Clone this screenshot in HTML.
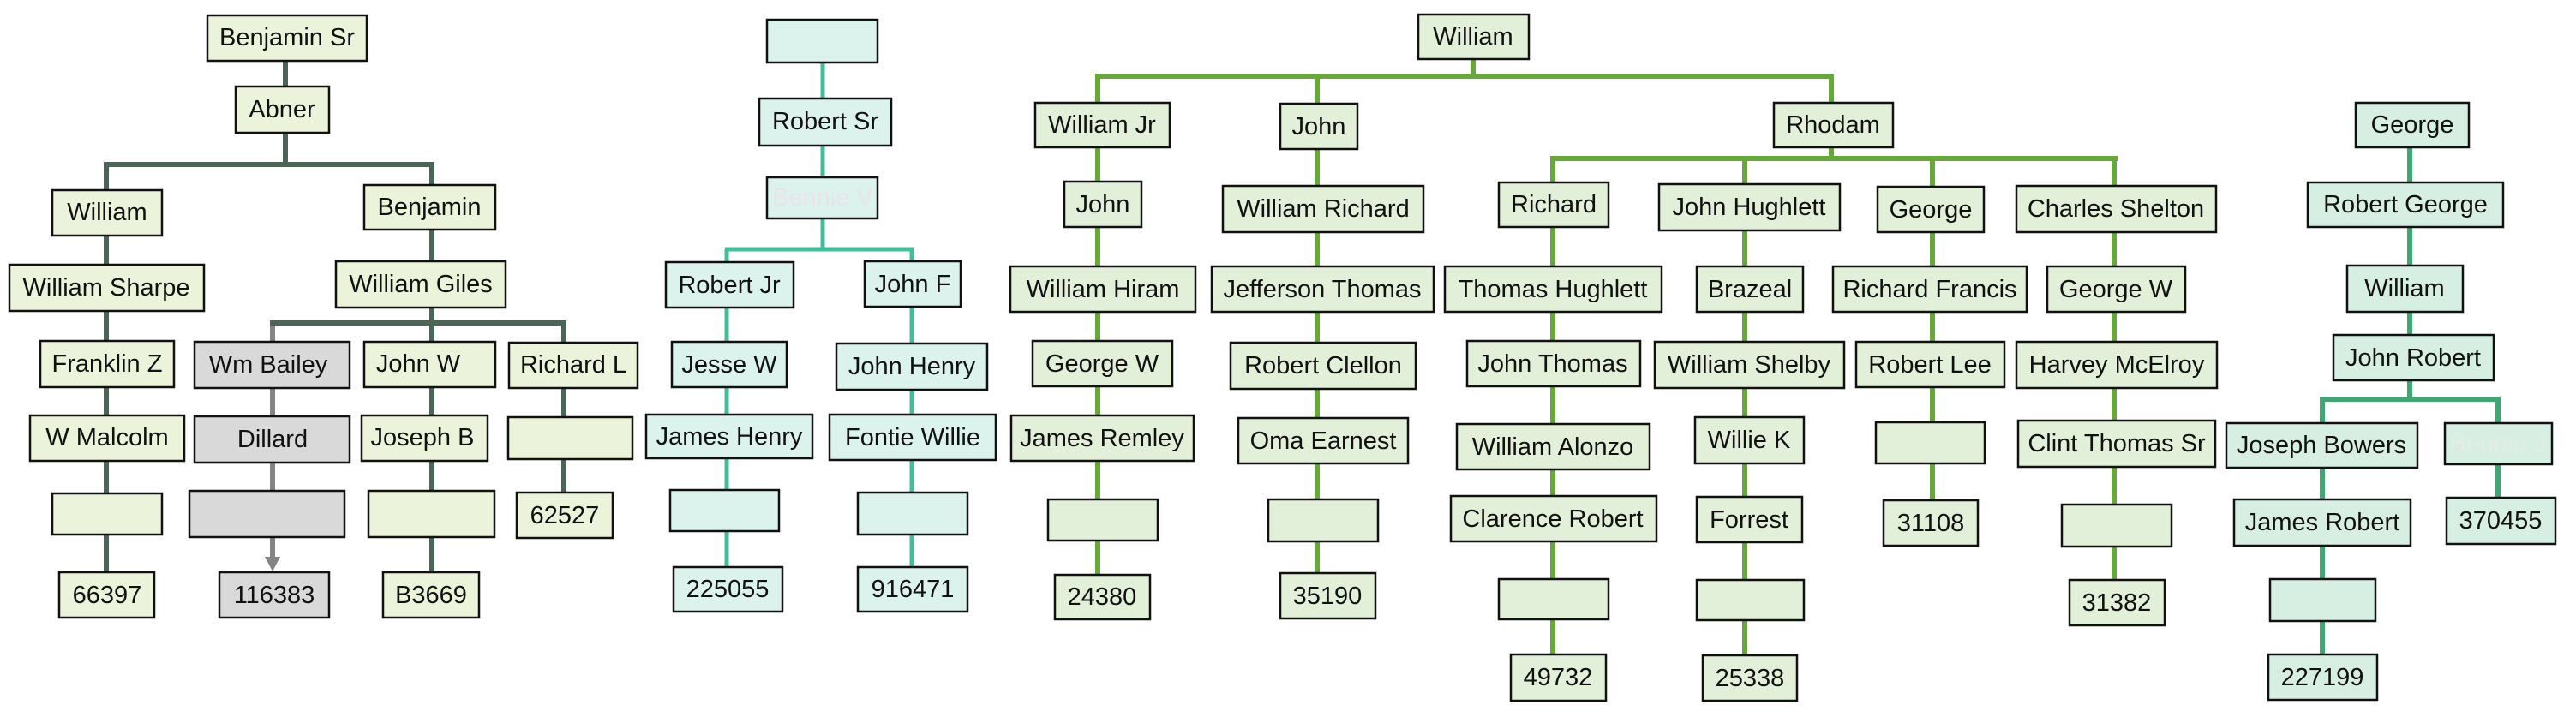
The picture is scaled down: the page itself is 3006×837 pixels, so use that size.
<!DOCTYPE html>
<html><head><meta charset="utf-8"><style>
html,body{margin:0;padding:0;background:#fff;}
svg{display:block}
text{font-family:"Liberation Sans",sans-serif;font-size:29px;fill:#111;text-anchor:middle;dominant-baseline:central}
rect{stroke:#111;stroke-width:2.5}
.a{fill:#ebf3da}.g{fill:#d9d9d9}.t{fill:#dcf2ec}.e{fill:#e2efd9}.m{fill:#d6efe2}
line{stroke-linecap:butt}
</style></head><body>
<svg width="3006" height="837" viewBox="0 0 3006 837" xmlns="http://www.w3.org/2000/svg">
<g stroke="#4b6657" stroke-width="6">
<line x1="333" y1="70" x2="333" y2="195"/>
<line x1="121" y1="192" x2="507" y2="192"/>
<line x1="124" y1="192" x2="124" y2="668"/>
<line x1="504" y1="192" x2="504" y2="668"/>
<line x1="315" y1="377" x2="661" y2="377"/>
<line x1="658" y1="377" x2="658" y2="590"/>
</g>
<g stroke="#848484" stroke-width="6">
<line x1="318" y1="380" x2="318" y2="652"/>
</g>
<polygon points="309,650 327,650 318,667" fill="#848484"/>
<g stroke="#45bd9b" stroke-width="5">
<line x1="960" y1="73" x2="960" y2="293"/>
<line x1="846" y1="291" x2="1066" y2="291"/>
<line x1="848" y1="291" x2="848" y2="662"/>
<line x1="1064" y1="291" x2="1064" y2="662"/>
</g>
<g stroke="#68a83a" stroke-width="6">
<line x1="1719" y1="69" x2="1719" y2="92"/>
<line x1="1278" y1="89" x2="2140" y2="89"/>
<line x1="1281" y1="89" x2="1281" y2="671"/>
<line x1="1537" y1="89" x2="1537" y2="669"/>
<line x1="2137" y1="89" x2="2137" y2="188"/>
<line x1="1809" y1="185" x2="2472" y2="185"/>
<line x1="1812" y1="185" x2="1812" y2="764"/>
<line x1="2036" y1="185" x2="2036" y2="765"/>
<line x1="2255" y1="185" x2="2255" y2="584"/>
<line x1="2467" y1="185" x2="2467" y2="677"/>
</g>
<g stroke="#3fa772" stroke-width="6">
<line x1="2812" y1="172" x2="2812" y2="469"/>
<line x1="2707" y1="466" x2="2918" y2="466"/>
<line x1="2710" y1="466" x2="2710" y2="764"/>
<line x1="2915" y1="466" x2="2915" y2="581"/>
</g>

<rect class="a" x="242" y="18" width="186" height="53"/><text x="335" y="44">Benjamin Sr</text>
<rect class="a" x="275" y="101" width="109" height="54"/><text x="329" y="128">Abner</text>
<rect class="a" x="61" y="222" width="128" height="53"/><text x="125" y="248">William</text>
<rect class="a" x="425" y="216" width="153" height="52"/><text x="501" y="242">Benjamin</text>
<rect class="a" x="11" y="309" width="227" height="54"/><text x="124" y="336">William Sharpe</text>
<rect class="a" x="392" y="305" width="198" height="54"/><text x="491" y="332">William Giles</text>
<rect class="a" x="47" y="398" width="156" height="54"/><text x="125" y="425">Franklin Z</text>
<rect class="g" x="227" y="399" width="181" height="54"/><text x="313" y="426">Wm Bailey</text>
<rect class="a" x="425" y="399" width="153" height="53"/><text x="488" y="425">John W</text>
<rect class="a" x="594" y="400" width="150" height="53"/><text x="669" y="426">Richard L</text>
<rect class="a" x="35" y="485" width="180" height="53"/><text x="125" y="511">W Malcolm</text>
<rect class="g" x="227" y="486" width="181" height="54"/><text x="318" y="513">Dillard</text>
<rect class="a" x="422" y="485" width="147" height="53"/><text x="493" y="511">Joseph B</text>
<rect class="a" x="593" y="487" width="145" height="49"/>
<rect class="a" x="61" y="576" width="128" height="48"/>
<rect class="g" x="221" y="573" width="181" height="54"/>
<rect class="a" x="430" y="573" width="147" height="54"/>
<rect class="a" x="603" y="575" width="112" height="53"/><text x="659" y="602">62527</text>
<rect class="a" x="69" y="668" width="111" height="53"/><text x="125" y="695">66397</text>
<rect class="g" x="256" y="668" width="128" height="53"/><text x="320" y="695">116383</text>
<rect class="a" x="447" y="668" width="112" height="53"/><text x="503" y="695">B3669</text>

<rect class="t" x="895" y="23" width="129" height="50"/>
<rect class="t" x="886" y="115" width="154" height="55"/><text x="963" y="142">Robert Sr</text>
<rect class="t" x="895" y="207" width="129" height="48"/><text x="960" y="231" style="fill:#e9e4ea">Bennie V</text>
<rect class="t" x="777" y="306" width="149" height="53"/><text x="851" y="333">Robert Jr</text>
<rect class="t" x="1009" y="305" width="112" height="53"/><text x="1065" y="332">John F</text>
<rect class="t" x="784" y="399" width="134" height="53"/><text x="851" y="426">Jesse W</text>
<rect class="t" x="976" y="401" width="176" height="54"/><text x="1064" y="428">John Henry</text>
<rect class="t" x="754" y="484" width="194" height="51"/><text x="851" y="510">James Henry</text>
<rect class="t" x="968" y="484" width="194" height="53"/><text x="1065" y="511">Fontie Willie</text>
<rect class="t" x="782" y="572" width="127" height="48"/>
<rect class="t" x="1001" y="575" width="128" height="49"/>
<rect class="t" x="786" y="662" width="127" height="52"/><text x="849" y="688">225055</text>
<rect class="t" x="1001" y="662" width="128" height="52"/><text x="1065" y="688">916471</text>

<rect class="e" x="1655" y="17" width="129" height="52"/><text x="1719" y="43">William</text>
<rect class="e" x="1208" y="120" width="157" height="52"/><text x="1286" y="146">William Jr</text>
<rect class="e" x="1494" y="121" width="90" height="53"/><text x="1539" y="148">John</text>
<rect class="e" x="2070" y="120" width="139" height="52"/><text x="2139" y="146">Rhodam</text>
<rect class="e" x="1242" y="212" width="90" height="53"/><text x="1287" y="239">John</text>
<rect class="e" x="1179" y="311" width="216" height="53"/><text x="1287" y="338">William Hiram</text>
<rect class="e" x="1205" y="398" width="163" height="53"/><text x="1286" y="425">George W</text>
<rect class="e" x="1180" y="485" width="213" height="53"/><text x="1286" y="512">James Remley</text>
<rect class="e" x="1223" y="583" width="128" height="48"/>
<rect class="e" x="1231" y="671" width="111" height="52"/><text x="1286" y="697">24380</text>
<rect class="e" x="1427" y="217" width="234" height="54"/><text x="1544" y="244">William Richard</text>
<rect class="e" x="1414" y="311" width="259" height="53"/><text x="1543" y="338">Jefferson Thomas</text>
<rect class="e" x="1436" y="400" width="216" height="54"/><text x="1544" y="427">Robert Clellon</text>
<rect class="e" x="1445" y="488" width="198" height="53"/><text x="1544" y="515">Oma Earnest</text>
<rect class="e" x="1480" y="583" width="128" height="49"/>
<rect class="e" x="1494" y="669" width="111" height="53"/><text x="1549" y="696">35190</text>
<rect class="e" x="1749" y="213" width="128" height="52"/><text x="1813" y="239">Richard</text>
<rect class="e" x="1686" y="311" width="253" height="53"/><text x="1812" y="338">Thomas Hughlett</text>
<rect class="e" x="1712" y="398" width="202" height="53"/><text x="1812" y="425">John Thomas</text>
<rect class="e" x="1700" y="495" width="225" height="53"/><text x="1812" y="522">William Alonzo</text>
<rect class="e" x="1693" y="579" width="240" height="53"/><text x="1812" y="606">Clarence Robert</text>
<rect class="e" x="1749" y="676" width="128" height="47"/>
<rect class="e" x="1763" y="764" width="111" height="54"/><text x="1818" y="791">49732</text>
<rect class="e" x="1936" y="215" width="211" height="54"/><text x="2041" y="242">John Hughlett</text>
<rect class="e" x="1980" y="311" width="124" height="53"/><text x="2042" y="338">Brazeal</text>
<rect class="e" x="1931" y="399" width="221" height="54"/><text x="2041" y="426">William Shelby</text>
<rect class="e" x="1978" y="487" width="127" height="54"/><text x="2041" y="514">Willie K</text>
<rect class="e" x="1980" y="580" width="123" height="53"/><text x="2041" y="607">Forrest</text>
<rect class="e" x="1980" y="677" width="125" height="47"/>
<rect class="e" x="1987" y="765" width="110" height="53"/><text x="2042" y="792">25338</text>
<rect class="e" x="2191" y="218" width="124" height="53"/><text x="2253" y="245">George</text>
<rect class="e" x="2139" y="311" width="226" height="53"/><text x="2252" y="338">Richard Francis</text>
<rect class="e" x="2166" y="399" width="173" height="53"/><text x="2252" y="426">Robert Lee</text>
<rect class="e" x="2189" y="493" width="127" height="48"/>
<rect class="e" x="2198" y="584" width="110" height="53"/><text x="2253" y="611">31108</text>
<rect class="e" x="2353" y="217" width="233" height="54"/><text x="2469" y="244">Charles Shelton</text>
<rect class="e" x="2389" y="311" width="161" height="53"/><text x="2469" y="338">George W</text>
<rect class="e" x="2353" y="399" width="234" height="54"/><text x="2470" y="426">Harvey McElroy</text>
<rect class="e" x="2355" y="491" width="230" height="54"/><text x="2470" y="518">Clint Thomas Sr</text>
<rect class="e" x="2406" y="589" width="128" height="49"/>
<rect class="e" x="2415" y="677" width="111" height="53"/><text x="2470" y="704">31382</text>

<rect class="m" x="2749" y="120" width="132" height="52"/><text x="2815" y="146">George</text>
<rect class="m" x="2693" y="213" width="228" height="52"/><text x="2807" y="239">Robert George</text>
<rect class="m" x="2739" y="310" width="135" height="54"/><text x="2806" y="337">William</text>
<rect class="m" x="2723" y="391" width="187" height="53"/><text x="2816" y="418">John Robert</text>
<rect class="m" x="2598" y="494" width="223" height="52"/><text x="2709" y="520">Joseph Bowers</text>
<rect class="m" x="2853" y="494" width="125" height="48"/><text x="2915" y="518" style="fill:#e4ece8">Bennie J</text>
<rect class="m" x="2607" y="583" width="206" height="54"/><text x="2710" y="610">James Robert</text>
<rect class="m" x="2855" y="581" width="127" height="54"/><text x="2918" y="608">370455</text>
<rect class="m" x="2649" y="676" width="123" height="49"/>
<rect class="m" x="2647" y="764" width="127" height="53"/><text x="2710" y="791">227199</text>
</svg>
</body></html>
